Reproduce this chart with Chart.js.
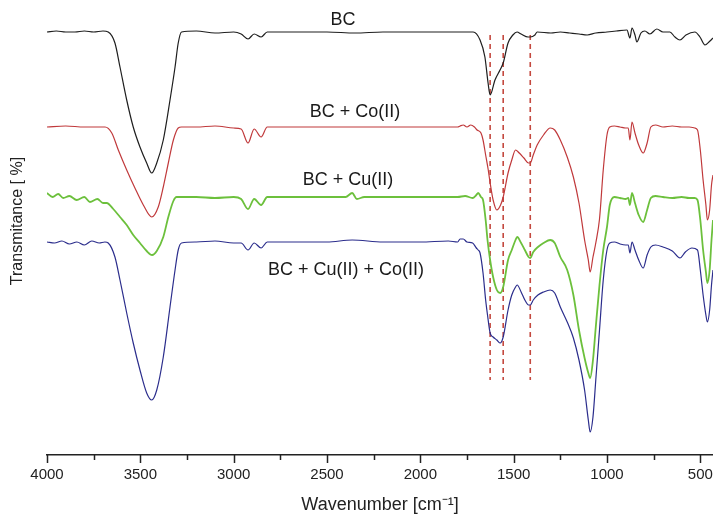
<!DOCTYPE html>
<html>
<head>
<meta charset="utf-8">
<script src="https://cdn.jsdelivr.net/npm/chart.js@4.4.1/dist/chart.umd.min.js"></script>
<style>
  html, body { margin: 0; padding: 0; background: #fff; }
  #wrap { width: 713px; height: 516px; }
</style>
</head>
<body>
<div id="wrap"><canvas id="ftirChart"></canvas></div>
<script>
// series names (also used as curve labels)
const seriesNames = ['BC', 'BC + Co(II)', 'BC + Cu(II)', 'BC + Cu(II) + Co(II)'];

// BC
const bcWn = [4000, 3950, 3900, 3850, 3800, 3750, 3700, 3672, 3636, 3609, 3573, 3538, 3502, 3466, 3439, 3412, 3377, 3341, 3314, 3297,
  3279, 3200, 3100, 3000, 2960, 2923, 2890, 2853, 2820, 2700, 2500, 2350, 2200, 2000, 1800, 1717, 1680, 1654, 1637, 1626,
  1600, 1573, 1556, 1530, 1504, 1482, 1460, 1423, 1411, 1386, 1374, 1300, 1250, 1200, 1150, 1106, 1060, 1000, 950, 893,
  877, 866, 850, 840, 818, 797, 770, 733, 700, 663, 636, 609, 577, 529, 502, 475, 448, 432];
const bcT = [423, 424, 423, 423, 424, 423, 424, 423, 412, 388, 355, 328, 308, 292, 282, 292, 315, 355, 388, 412,
  423, 424, 422, 423, 421, 416, 421, 418, 423, 423, 423, 422, 423, 423, 423, 423, 415, 398, 372, 360,
  375, 385, 392, 412, 420, 423, 421, 418, 418, 420, 423, 422, 423, 422, 421, 420, 422, 423, 424, 425,
  417, 427, 420, 413, 422, 424, 421, 426, 423, 423, 418, 415, 420, 423, 418, 410, 414, 417];

// BC + Co(II)
const coWn = [4000, 3900, 3800, 3700, 3689, 3653, 3618, 3573, 3529, 3484, 3439, 3404, 3377, 3350, 3323, 3297, 3279, 3200, 3100, 3000,
  2960, 2923, 2890, 2853, 2820, 2700, 2500, 2300, 2100, 1900, 1800, 1787, 1770, 1750, 1730, 1710, 1696, 1675, 1664, 1650,
  1636, 1626, 1610, 1590, 1570, 1556, 1530, 1510, 1490, 1470, 1445, 1420, 1411, 1395, 1374, 1340, 1304, 1280, 1250, 1213,
  1180, 1150, 1120, 1100, 1090, 1075, 1060, 1040, 1020, 1000, 985, 960, 930, 900, 886, 877, 866, 850, 830, 806,
  785, 765, 740, 700, 650, 600, 560, 530, 515, 500, 485, 470, 462, 450, 440, 432];
const coT = [328, 329, 328, 328, 328, 322, 305, 285, 267, 250, 238, 248, 268, 292, 315, 327, 328, 328, 329, 327,
  326, 312, 326, 318, 328, 328, 328, 328, 328, 328, 328, 329, 330, 328, 330, 328, 325, 322, 315, 300,
  285, 272, 255, 245, 250, 258, 282, 295, 305, 302, 297, 292, 292, 300, 310, 320, 327, 325, 315, 298,
  278, 252, 215, 195, 183, 198, 212, 236, 285, 320, 328, 329, 328, 327, 327, 315, 333, 322, 310, 302,
  312, 328, 330, 328, 329, 328, 328, 327, 325, 305, 275, 250, 235, 245, 270, 280];

// BC + Cu(II)
const cuWn = [4000, 3970, 3940, 3913, 3880, 3841, 3800, 3770, 3730, 3700, 3680, 3645, 3609, 3573, 3538, 3502, 3466, 3437, 3412, 3377,
  3350, 3323, 3306, 3200, 3100, 3000, 2960, 2923, 2890, 2853, 2820, 2700, 2500, 2400, 2365, 2340, 2300, 2100, 1900, 1800,
  1760, 1720, 1700, 1690, 1675, 1664, 1650, 1640, 1626, 1610, 1590, 1572, 1556, 1530, 1510, 1490, 1481, 1460, 1440, 1420,
  1411, 1395, 1370, 1340, 1304, 1280, 1250, 1213, 1180, 1150, 1120, 1100, 1090, 1075, 1060, 1040, 1020, 1000, 985, 960,
  930, 900, 886, 877, 866, 850, 830, 806, 785, 765, 740, 700, 650, 600, 560, 530, 515, 500, 485, 470,
  462, 450, 440, 432];
const cuT = [262, 258, 261, 257, 259, 255, 258, 253, 256, 252, 252, 246, 238, 230, 220, 212, 204, 200, 204, 218,
  238, 254, 258, 258, 257, 258, 256, 246, 256, 250, 258, 258, 258, 258, 262, 256, 258, 258, 258, 258,
  259, 257, 260, 262, 258, 255, 235, 215, 195, 178, 165, 162, 168, 195, 205, 215, 218, 212, 205, 198,
  197, 203, 208, 212, 215, 212, 198, 185, 160, 125, 97, 82, 77, 95, 128, 170, 205, 228, 250, 258,
  257, 256, 257, 250, 262, 252, 240, 233, 245, 257, 259, 258, 257, 258, 257, 257, 255, 235, 205, 183,
  172, 185, 215, 235];

// BC + Cu(II) + Co(II)
const cucoWn = [4000, 3960, 3920, 3880, 3840, 3800, 3760, 3720, 3690, 3672, 3636, 3609, 3573, 3538, 3502, 3466, 3439, 3412, 3377, 3341,
  3314, 3297, 3279, 3200, 3100, 3000, 2960, 2923, 2890, 2853, 2820, 2700, 2500, 2365, 2200, 2000, 1850, 1800, 1787, 1770,
  1750, 1720, 1700, 1690, 1680, 1664, 1650, 1640, 1626, 1610, 1590, 1572, 1556, 1530, 1510, 1490, 1481, 1460, 1440, 1420,
  1411, 1395, 1370, 1340, 1304, 1280, 1250, 1213, 1180, 1150, 1120, 1100, 1090, 1075, 1060, 1040, 1020, 1000, 985, 960,
  930, 900, 886, 877, 866, 850, 830, 806, 785, 765, 740, 700, 650, 609, 580, 545, 515, 500, 485, 470,
  462, 450, 440, 432];
const cucoT = [213, 212, 214, 211, 213, 210, 214, 212, 213, 212, 198, 175, 142, 112, 85, 62, 55, 65, 98, 148,
  185, 205, 212, 213, 214, 212, 212, 205, 212, 207, 213, 213, 213, 215, 213, 213, 214, 213, 216, 216,
  213, 212, 207, 205, 202, 182, 155, 140, 122, 118, 115, 112, 118, 145, 160, 168, 170, 163, 155, 150,
  150, 155, 160, 163, 165, 162, 148, 133, 117, 95, 65, 35, 23, 38, 75, 125, 175, 205, 212, 213,
  211, 210, 210, 202, 213, 205, 195, 187, 200, 208, 210, 208, 204, 197, 203, 207, 205, 185, 160, 140,
  133, 145, 170, 185];

// dashed marker lines (wavenumbers) and their vertical extent
const markerWn = [1626, 1556, 1411];
const markerTop = 420;
const markerBottom = 75;

// x axis range and tick labels
const xMin = 432;
const xMax = 4000;
const xTickValues = [4000, 3500, 3000, 2500, 2000, 1500, 1000, 500];
const minorStep = 250;

const toPoints = (xs, ys) => xs.map((x, i) => ({ x: x, y: ys[i] }));

Chart.defaults.font.family = '"Liberation Sans", Arial, sans-serif';
Chart.defaults.color = '#222';

const colors = ['#1e1e1e', '#c0393b', '#6cc03c', '#2b2d8c'];
const widths = [1.2, 1.2, 1.8, 1.2];
const spectra = [[bcWn, bcT], [coWn, coT], [cuWn, cuT], [cucoWn, cucoT]];

const datasets = spectra.map((s, i) => ({
  label: seriesNames[i],
  data: toPoints(s[0], s[1]),
  borderColor: colors[i],
  borderWidth: widths[i],
  pointRadius: 0,
  cubicInterpolationMode: 'monotone',
  fill: false
}));

markerWn.forEach(w => {
  datasets.push({
    label: 'marker ' + w,
    data: [{ x: w, y: markerTop }, { x: w, y: markerBottom }],
    borderColor: '#c4493f',
    borderWidth: 1.6,
    borderDash: [5, 4],
    pointRadius: 0,
    fill: false
  });
});

// minor/major tick marks below the axis, y title and curve labels
const decor = {
  id: 'decor',
  afterDraw(chart) {
    const { ctx, chartArea, scales: { x, y } } = chart;
    ctx.save();
    ctx.strokeStyle = '#222';
    ctx.lineWidth = 1.5;
    for (let v = 500; v <= xMax; v += minorStep) {
      const px = Math.round(x.getPixelForValue(v)) + 0.5;
      const len = xTickValues.includes(v) ? 8 : 5;
      ctx.beginPath();
      ctx.moveTo(px, chartArea.bottom);
      ctx.lineTo(px, chartArea.bottom + len);
      ctx.stroke();
    }

    // y axis title, a bit above the middle like the original
    ctx.save();
    ctx.translate(18, 221);
    ctx.rotate(-Math.PI / 2);
    ctx.fillStyle = '#222';
    ctx.font = '16px "Liberation Sans", Arial, sans-serif';
    ctx.textAlign = 'center';
    ctx.textBaseline = 'middle';
    ctx.fillText('Transmitance [ %]', 0, 0);
    ctx.restore();

    const anchors = [[2414, 435], [2350, 343], [2388, 275], [2398, 185]];
    ctx.fillStyle = '#1a1a1a';
    ctx.font = '18px "Liberation Sans", Arial, sans-serif';
    ctx.textAlign = 'center';
    ctx.textBaseline = 'middle';
    seriesNames.forEach((name, i) => {
      ctx.fillText(name, x.getPixelForValue(anchors[i][0]), y.getPixelForValue(anchors[i][1]));
    });
    ctx.restore();
  }
};

new Chart(document.getElementById('ftirChart'), {
  type: 'line',
  data: { datasets: datasets },
  options: {
    responsive: true,
    maintainAspectRatio: false,
    animation: false,
    layout: { padding: { top: 10, left: 0, right: 0, bottom: 0 } },
    plugins: {
      legend: { display: false },
      tooltip: { enabled: false }
    },
    scales: {
      x: {
        type: 'linear',
        reverse: true,
        min: xMin,
        max: xMax,
        afterBuildTicks: (s) => { s.ticks = xTickValues.map(v => ({ value: v })); },
        ticks: {
          autoSkip: false,
          maxRotation: 0,
          padding: 11,
          font: { size: 15 },
          color: '#222',
          callback: (v) => String(v)
        },
        grid: { display: false, drawTicks: false },
        border: { display: true, color: '#222', width: 1.5 },
        title: {
          display: true,
          text: 'Wavenumber [cm\u207B\u00B9]',
          font: { size: 18 },
          color: '#222',
          padding: 0
        },
        afterFit: (s) => {
          s.height = 61;
          s.paddingLeft = 0;
          s.paddingRight = 0;
        }
      },
      y: {
        min: 0,
        max: 445,
        ticks: { display: false },
        grid: { display: false, drawTicks: false },
        border: { display: false },
        title: { display: false },
        afterFit: (s) => { s.width = 47; }
      }
    }
  },
  plugins: [decor]
});
</script>
</body>
</html>
